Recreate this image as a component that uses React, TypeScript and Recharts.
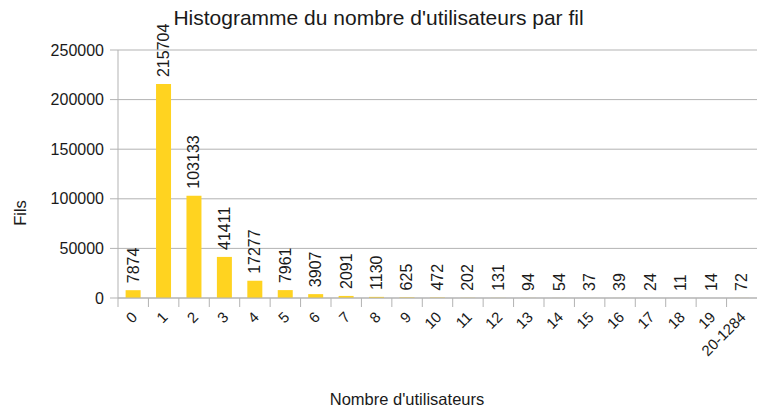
import React from 'react';
import { BarChart, Bar, XAxis, YAxis, CartesianGrid, LabelList } from 'recharts';

const categories = ['0', '1', '2', '3', '4', '5', '6', '7', '8', '9', '10', '11', '12', '13', '14', '15', '16', '17', '18', '19', '20-1284'];
const filsValues = [7874, 215704, 103133, 41411, 17277, 7961, 3907, 2091, 1130, 625, 472, 202, 131, 94, 54, 37, 39, 24, 11, 14, 72];
const yTicks = [0, 50000, 100000, 150000, 200000, 250000];

const title = "Histogramme du nombre d'utilisateurs par fil";
const xTitle = "Nombre d'utilisateurs";
const yTitle = 'Fils';

const data = categories.map((c, i) => ({ cat: c, fils: filsValues[i] }));

const W = 757;
const H = 410;
const Y_AXIS_W = 118;
const MARGIN = { top: 50, right: 0, left: 0, bottom: 0 };
const BAND = (W - Y_AXIS_W - MARGIN.right) / categories.length;
const FONT = '"Liberation Sans", Arial, sans-serif';
const GRID = '#b3b3b3';
const TXT = '#1a1a1a';

const XTick = (props: any) => {
  const { x, y, payload } = props;
  const bx = x - BAND / 2;
  const ax = x + 5;
  const ay = y + 20;
  return (
    <g>
      <line x1={bx} y1={y} x2={bx} y2={y + 9} stroke={GRID} strokeWidth={1} />
      <text
        x={ax}
        y={ay}
        textAnchor="end"
        fontSize={15}
        fill={TXT}
        fontFamily={FONT}
        transform={`rotate(-45, ${ax}, ${ay})`}
      >
        {payload.value}
      </text>
    </g>
  );
};

const BarLabel = (props: any) => {
  const { x, y, width, value } = props;
  const cx = x + width / 2;
  const ty = y - 7;
  return (
    <text
      x={cx}
      y={ty}
      textAnchor="start"
      dominantBaseline="central"
      fontSize={16}
      fill={TXT}
      fontFamily={FONT}
      transform={`rotate(-90, ${cx}, ${ty})`}
    >
      {value}
    </text>
  );
};

export default function App() {
  return (
    <div style={{ position: 'absolute', left: 0, top: 0, width: W, height: H, background: '#fff', fontFamily: FONT }}>
      <BarChart width={W} height={H} data={data} margin={MARGIN} barCategoryGap="25%">
        <CartesianGrid vertical={false} stroke={GRID} strokeWidth={1} />
        <XAxis
          dataKey="cat"
          height={112}
          interval={0}
          tickSize={0}
          tickMargin={0}
          tickLine={false}
          axisLine={{ stroke: GRID }}
          tick={<XTick />}
        />
        <YAxis
          width={Y_AXIS_W}
          domain={[0, 250000]}
          ticks={yTicks}
          interval={0}
          tickSize={8}
          tickMargin={6}
          axisLine={{ stroke: GRID }}
          tickLine={{ stroke: GRID }}
          tick={{ fontSize: 16, fill: TXT, fontFamily: FONT }}
        />
        <Bar dataKey="fils" fill="#ffd320" isAnimationActive={false}>
          <LabelList dataKey="fils" content={<BarLabel />} />
        </Bar>
      </BarChart>
      <div style={{ position: 'absolute', left: 0, width: W, top: 6, textAlign: 'center', fontSize: 21, color: TXT, whiteSpace: 'nowrap' }}>
        {title}
      </div>
      <div style={{ position: 'absolute', left: 307, width: 200, top: 390, textAlign: 'center', fontSize: 16.5, color: TXT, whiteSpace: 'nowrap' }}>
        {xTitle}
      </div>
      <div style={{ position: 'absolute', left: 0, top: 213, width: 40, height: 20, marginTop: -10, textAlign: 'center', fontSize: 16.5, color: TXT, transform: 'rotate(-90deg)', whiteSpace: 'nowrap', lineHeight: '20px' }}>
        {yTitle}
      </div>
    </div>
  );
}
